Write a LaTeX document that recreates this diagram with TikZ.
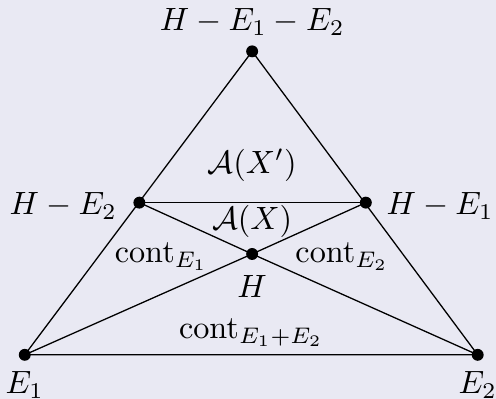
\documentclass[tikz,border=0pt]{standalone}
\usetikzlibrary{calc}
\definecolor{bgcol}{RGB}{233,233,243}
\begin{document}
\begin{tikzpicture}[scale=1]
\fill[bgcol] (0,0) rectangle (5.41,4.35); \useasboundingbox (0,0) rectangle (5.41,4.35);
\coordinate (T) at (2.75,3.79); \coordinate (P) at (1.52,2.14); \coordinate (Q) at (3.99,2.14); \coordinate (H) at (2.75,1.58); \coordinate (A) at (0.27,0.48); \coordinate (B) at (5.21,0.48);
\draw (A)--(B)--(T)--cycle;
\draw (P)--(Q);
\draw (P)--(H)--(B); \draw (Q)--(H)--(A);
\foreach \p in {T,P,Q,H,A,B} \fill (\p) circle (0.065);
\node (lT) at (2.75,4.11) {$H-E_1-E_2$};
\node (lP) at (0.69,2.10) {$H-E_2$};
\node (lQ) at (4.80,2.10) {$H-E_1$};
\node (lH) at (2.75,1.22) {$H$};
\node (lA) at (0.27,0.15) {$E_1$};
\node (lB) at (5.21,0.15) {$E_2$};
\node (big) at (2.75,2.55) {$\mathcal{A}(X')$};
\node (small) at (2.75,1.93) {$\mathcal{A}(X)$};
\node (c1) at (1.76,1.55) {$\mathrm{cont}_{E_1}$};
\node (c2) at (3.73,1.55) {$\mathrm{cont}_{E_2}$};
\node (c12) at (2.74,0.72) {$\mathrm{cont}_{E_1+E_2}$};
\end{tikzpicture}
\end{document}
